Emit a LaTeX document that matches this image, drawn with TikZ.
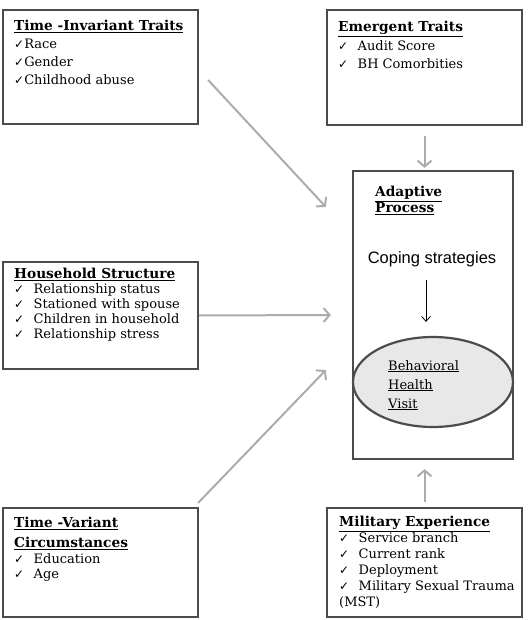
\documentclass[tikz,border=0pt]{standalone}
\usepackage{fontspec}
\setmainfont{DejaVu Serif}
\newfontfamily\copefont{Liberation Sans}
\newfontfamily\tickfont{DejaVu Sans}
\usetikzlibrary{positioning, arrows.meta, shapes.geometric, calc}

\newcommand{\chk}{{\tickfont\fontsize{12}{12}\selectfont ✓}}
\newcommand{\itm}[1]{\makebox[19.5pt][l]{\chk}#1}
\newcommand{\hd}[1]{{\fontsize{13.7}{0}\selectfont\textbf{\underline{#1}}}}

\begin{document}
\begin{tikzpicture}[x=1pt, y=-1pt,
    box/.style={draw=gray!60!black, line width=2.2pt, inner sep=0pt},
    txt/.style={anchor=north west, align=left, inner sep=0pt},
    flow/.style={draw=gray!65, line width=2pt, -{Straight Barb[length=6pt,width=14pt]}}]
    \useasboundingbox (0,0) rectangle (527,620);

    % Boxes
    \node[box, minimum width=195pt, minimum height=114pt] (ti) at (100.5,67) {};
    \node[box, minimum width=195pt, minimum height=115pt] (em) at (424.5,67.5) {};
    \node[box, minimum width=195pt, minimum height=107pt] (hh) at (100.5,315.5) {};
    \node[box, minimum width=195pt, minimum height=109pt] (tv) at (100.5,562.5) {};
    \node[box, minimum width=195pt, minimum height=109pt] (mi) at (424.5,562.5) {};
    \node[box, minimum width=160pt, minimum height=288pt] (ad) at (433,315) {};

    % Box texts
    \node[txt, font=\fontsize{13}{18}\selectfont] (ti-txt) at (14,20)
        {\hd{Time -Invariant Traits}\\ \chk Race\\ \chk Gender\\ \chk Childhood abuse};
    \node[txt, font=\fontsize{13}{18.5}\selectfont] (em-txt) at (338,21)
        {\hd{Emergent Traits}\\ \itm{Audit Score}\\ \itm{BH Comorbities}};
    \node[txt, font=\fontsize{13}{15}\selectfont] (hh-txt) at (14,268)
        {\hd{Household Structure}\\ \itm{Relationship status}\\ \itm{Stationed with spouse}\\
         \itm{Children in household}\\ \itm{Relationship stress}};
    \node[txt, font=\fontsize{13}{15.5}\selectfont] (tv-txt) at (14,517)
        {\hd{Time -Variant}\\[4.5pt] \hd{Circumstances}\\ \itm{Education}\\ \itm{Age}};
    \node[txt, font=\fontsize{13}{16}\selectfont] (mi-txt) at (339,516)
        {\hd{Military Experience}\\ \itm{Service branch}\\ \itm{Current rank}\\ \itm{Deployment}\\
         \itm{Military Sexual Trauma}\\ (MST)};

    % Adaptive process
    \node[txt, font=\fontsize{13}{16}\selectfont] (ad-txt) at (375,186) {\hd{Adaptive}\\ \hd{Process}};
    \node[inner sep=0pt, font=\copefont\fontsize{16.5}{18}\selectfont] (cope) at (432,259) {Coping strategies};
    \node[ellipse, draw=gray!60!black, line width=2.2pt, fill=black!9, minimum width=160pt,
        minimum height=90pt] (bhv) at (433,382) {};
    \node[txt, font=\fontsize{13}{19}\selectfont] (bhv-txt) at (388,360)
        {\underline{Behavioral}\\ \underline{Health}\\ \underline{Visit}};
    \draw[-{Straight Barb[length=5pt,width=9pt]}, line width=0.8pt]
        ([shift={(-6,13)}]cope.south) -- ([shift={(-7,-14)}]bhv.north);

    % Arrows into adaptive process
    \draw[flow] ([shift={(9,13)}]ti.east) -- ([shift={(-26,-108)}]ad.west);
    \draw[flow] (hh.east) -- ([xshift=-21pt]ad.west);
    \draw[flow] ([shift={(-1,-4)}]tv.north east) -- ([shift={(-26,55)}]ad.west);
    \draw[flow, shorten <=10pt, shorten >=2pt] (em.south) -- (em.south |- ad.north);
    \draw[flow, shorten <=5pt, shorten >=9pt] (mi.north) -- (mi.north |- ad.south);
\end{tikzpicture}
\end{document}
